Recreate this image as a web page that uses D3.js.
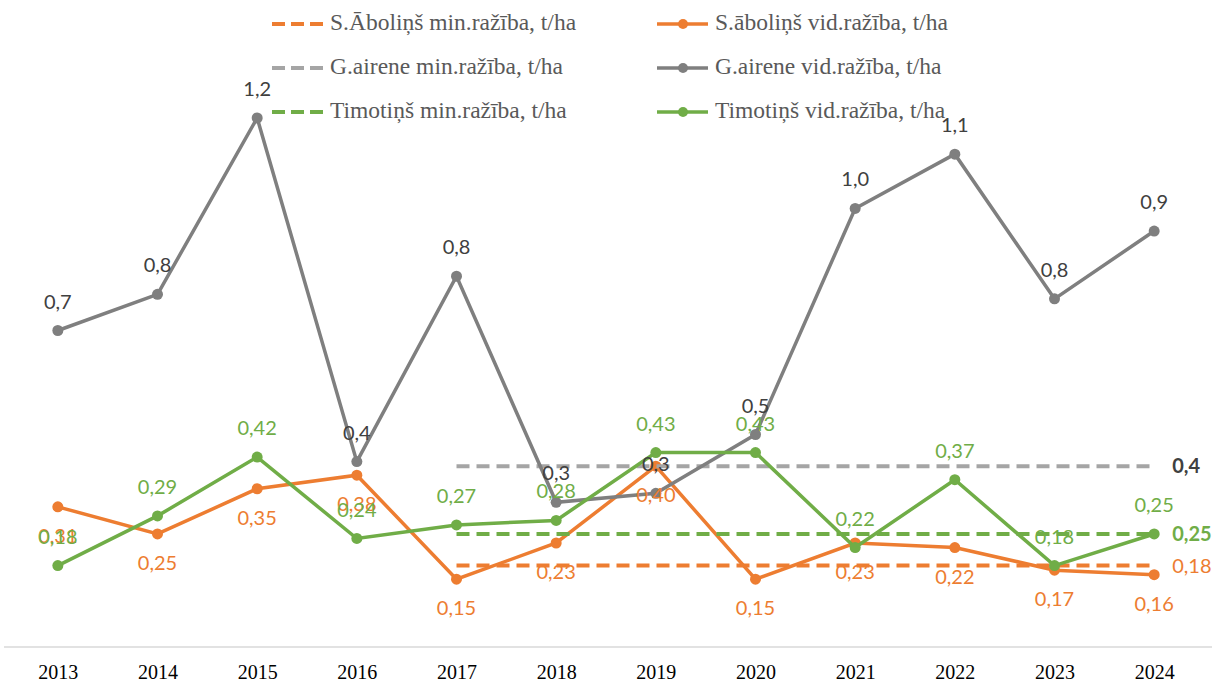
<!DOCTYPE html>
<html>
<head>
<meta charset="utf-8">
<script src="https://cdn.jsdelivr.net/npm/d3@7"></script>
<style>
  body { margin: 0; background: #fff; }
  svg { display: block; }
</style>
</head>
<body>
<div id="chart"></div>
<script>
// yields per year, t/ha
var years = ["2013","2014","2015","2016","2017","2018","2019","2020","2021","2022","2023","2024"];
var abolinsVid   = [0.31, 0.25, 0.35, 0.38, 0.15, 0.23, 0.40, 0.15, 0.23, 0.22, 0.17, 0.16];
var aireneVid    = [0.70, 0.78, 1.17, 0.41, 0.82, 0.32, 0.34, 0.47, 0.97, 1.09, 0.77, 0.92];
var timotinsVid  = [0.18, 0.29, 0.42, 0.24, 0.27, 0.28, 0.43, 0.43, 0.22, 0.37, 0.18, 0.25];
// minimum yield lines (shown from 2017)
var abolinsMin   = [null, null, null, null, 0.18, 0.18, 0.18, 0.18, 0.18, 0.18, 0.18, 0.18];
var aireneMin    = [null, null, null, null, 0.4, 0.4, 0.4, 0.4, 0.4, 0.4, 0.4, 0.4];
var timotinsMin  = [null, null, null, null, 0.25, 0.25, 0.25, 0.25, 0.25, 0.25, 0.25, 0.25];

var legendNames = [
  "S.Āboliņš min.ražība, t/ha", "S.āboliņš vid.ražība, t/ha",
  "G.airene min.ražība, t/ha", "G.airene vid.ražība, t/ha",
  "Timotiņš min.ražība, t/ha", "Timotiņš vid.ražība, t/ha"
];

var width = 1215, height = 687;
var orange = "#ed7d31", grey = "#7f7f7f", greyDash = "#a5a5a5", green = "#70ad47", labelGrey = "#404040";

var svg = d3.select("#chart").append("svg")
  .attr("width", width)
  .attr("height", height);

var x = d3.scalePoint().domain(years).range([8, 1204]).padding(0.5);
var y = d3.scaleLinear().domain([0, 1.4]).range([647, 14]);

var labelFont = "Lato, 'Open Sans', sans-serif";
var serif = "'Liberation Serif', 'DejaVu Serif', serif";

// x axis
svg.append("line")
  .attr("x1", 4).attr("x2", 1212)
  .attr("y1", y(0)).attr("y2", y(0))
  .attr("stroke", "#d9d9d9").attr("stroke-width", 1.5);

var xAxis = svg.append("g")
  .attr("transform", "translate(0," + y(0) + ")")
  .call(d3.axisBottom(x).tickSize(0).tickPadding(18));
xAxis.select(".domain").remove();
xAxis.selectAll("text")
  .style("font-family", serif)
  .style("font-size", "20px")
  .attr("fill", "#000");

function toPoints(vals) {
  return years.map(function(yr, i) { return { year: yr, v: vals[i] }; })
              .filter(function(d) { return d.v !== null; });
}

var line = d3.line()
  .x(function(d) { return x(d.year); })
  .y(function(d) { return y(d.v); });

var series = [
  { vals: abolinsMin,  color: orange,   dashed: true },
  { vals: abolinsVid,  color: orange,   dashed: false },
  { vals: aireneMin,   color: greyDash, dashed: true },
  { vals: aireneVid,   color: grey,     dashed: false },
  { vals: timotinsMin, color: green,    dashed: true },
  { vals: timotinsVid, color: green,    dashed: false }
];

series.forEach(function(s) {
  var pts = toPoints(s.vals);
  svg.append("path")
    .datum(pts)
    .attr("fill", "none")
    .attr("stroke", s.color)
    .attr("stroke-width", s.dashed ? 4 : 3.5)
    .attr("stroke-dasharray", s.dashed ? "13,7" : null)
    .attr("d", line);
  if (!s.dashed) {
    svg.selectAll(null)
      .data(pts)
      .enter().append("circle")
      .attr("cx", function(d) { return x(d.year); })
      .attr("cy", function(d) { return y(d.v); })
      .attr("r", 5.5)
      .attr("fill", s.color);
  }
});

function fmt(v, dec) { return v.toFixed(dec).replace(".", ","); }

// data labels
function addLabels(vals, color, dec, dy) {
  svg.selectAll(null)
    .data(toPoints(vals))
    .enter().append("text")
    .attr("x", function(d) { return x(d.year); })
    .attr("y", function(d) { return y(d.v) + dy; })
    .attr("text-anchor", "middle")
    .attr("dominant-baseline", "middle")
    .style("font-family", labelFont)
    .style("font-size", "20px")
    .attr("fill", color)
    .text(function(d) { return fmt(d.v, dec); });
}
addLabels(abolinsVid, orange, 2, 31);
addLabels(aireneVid, labelGrey, 1, -27);
addLabels(timotinsVid, green, 2, -27);

// min line labels at right end
var lastYear = years[years.length - 1];
[
  { v: aireneMin[11],   color: labelGrey, bold: true,  text: fmt(aireneMin[11], 1) },
  { v: timotinsMin[11], color: green,     bold: true,  text: fmt(timotinsMin[11], 2) },
  { v: abolinsMin[11],  color: orange,    bold: false, text: fmt(abolinsMin[11], 2) }
].forEach(function(d) {
  svg.append("text")
    .attr("x", x(lastYear) + 18)
    .attr("y", y(d.v) + 2)
    .attr("dominant-baseline", "middle")
    .style("font-family", labelFont)
    .style("font-size", "20px")
    .style("font-weight", d.bold ? "bold" : "normal")
    .attr("fill", d.color)
    .text(d.text);
});

// legend
var legendRows = [24, 68, 112];
var legendCols = [272, 657];
series.forEach(function(s, i) {
  var row = Math.floor(i / 2), col = i % 2;
  var lx = legendCols[col], ly = legendRows[row];
  var g = svg.append("g").attr("transform", "translate(" + lx + "," + ly + ")");
  g.append("line")
    .attr("x1", 0).attr("x2", 51)
    .attr("y1", 0).attr("y2", 0)
    .attr("stroke", s.color)
    .attr("stroke-width", s.dashed ? 4 : 3.5)
    .attr("stroke-dasharray", s.dashed ? "13,6" : null);
  if (!s.dashed) {
    g.append("circle").attr("cx", 26).attr("cy", 0).attr("r", 5).attr("fill", s.color);
  }
  g.append("text")
    .attr("x", 58)
    .attr("y", 1)
    .attr("dominant-baseline", "middle")
    .style("font-family", serif)
    .style("font-size", "23.5px")
    .attr("fill", "#595959")
    .text(legendNames[i]);
});
</script>
</body>
</html>
